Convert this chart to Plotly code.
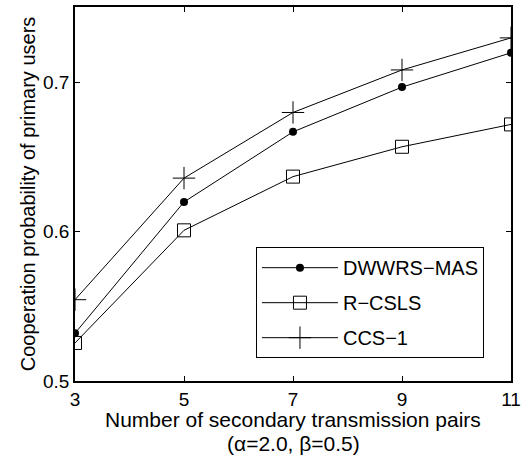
import plotly.graph_objects as go

x_pairs = [3, 5, 7, 9, 11]
dwwrs_mas = [0.532, 0.620, 0.667, 0.697, 0.720]
r_csls = [0.5255, 0.601, 0.637, 0.657, 0.672]
ccs_1 = [0.5545, 0.636, 0.680, 0.7085, 0.730]

x_ticks = [3, 5, 7, 9, 11]
y_ticks = [0.5, 0.6, 0.7]

FONT = "Arial, Liberation Sans, Helvetica, sans-serif"

fig = go.Figure()
fig.add_trace(go.Scatter(
    x=x_pairs, y=dwwrs_mas, name="DWWRS\u2212MAS", mode="lines+markers", legendgroup="a",
    line=dict(color="black", width=1),
    marker=dict(symbol="circle", size=8, color="black"),
))
fig.add_trace(go.Scatter(
    x=x_pairs, y=r_csls, name="R\u2212CSLS", mode="lines+markers", legendgroup="b",
    line=dict(color="black", width=1),
    marker=dict(symbol="square-open", size=13, color="black", line=dict(width=1, color="black")),
))
fig.add_trace(go.Scatter(
    x=x_pairs, y=ccs_1, name="CCS\u22121", mode="lines+markers", legendgroup="c",
    line=dict(color="black", width=1),
    marker=dict(symbol="cross-thin-open", size=16, color="black", line=dict(width=1, color="black")),
))

axis_common = dict(
    showgrid=False, zeroline=False, showline=True, linecolor="black", linewidth=1.5,
    mirror="allticks", ticks="inside", ticklen=5, tickcolor="black", tickwidth=1,
    tickfont=dict(family=FONT, size=19, color="black"),
)

fig.update_layout(
    width=526, height=463,
    margin=dict(l=75, r=15, t=5, b=82),
    paper_bgcolor="white", plot_bgcolor="white",
    font=dict(family=FONT, color="black"),
    xaxis=dict(range=[3, 11], tickvals=x_ticks, ticktext=[str(v) for v in x_ticks], **axis_common),
    yaxis=dict(range=[0.5, 0.7507], tickvals=y_ticks, ticktext=[str(v) for v in y_ticks],
               title=dict(text="Cooperation probability of primary users",
                          font=dict(family=FONT, size=20, color="black"), standoff=2),
               **axis_common),
    legend=dict(
        x=0.938, xanchor="right", y=0.061, yanchor="bottom",
        bordercolor="black", borderwidth=1, bgcolor="white",
        font=dict(family=FONT, size=20, color="black"),
        itemwidth=76, tracegroupgap=6, traceorder="grouped",
    ),
    showlegend=True,
)

fig.add_annotation(
    text="Number of secondary transmission pairs", xref="paper", yref="paper",
    x=0.5, y=-0.102, yanchor="middle", showarrow=False,
    font=dict(family=FONT, size=21, color="black"),
)
fig.add_annotation(
    text="(\u03b1=2.0, \u03b2=0.5)", xref="paper", yref="paper",
    x=0.5, y=-0.166, yanchor="middle", showarrow=False,
    font=dict(family=FONT, size=21, color="black"),
)

fig.write_html("out.html")
